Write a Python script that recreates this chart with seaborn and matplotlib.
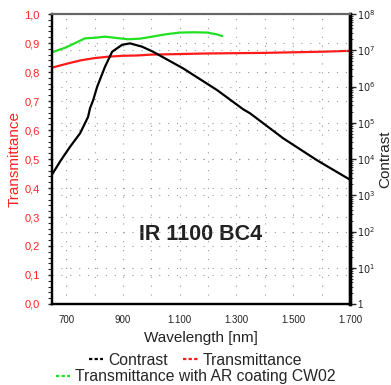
import numpy as np
import pandas as pd
import seaborn as sns
import matplotlib
matplotlib.use("Agg")
import matplotlib.pyplot as plt
from matplotlib.ticker import FuncFormatter, MultipleLocator, LogLocator, NullFormatter
from matplotlib.lines import Line2D

# Transmission (left axis)
wl_trans = [650, 700, 750, 800, 850, 900, 950, 1000, 1100, 1200, 1300, 1400, 1500, 1600, 1700]
trans = [0.815, 0.828, 0.840, 0.848, 0.853, 0.856, 0.857, 0.860, 0.862, 0.864, 0.865, 0.866, 0.868, 0.870, 0.873]

# Transmission with AR coating CW02 (left axis)
wl_ar = [650, 700, 766, 800, 837, 880, 918, 960, 1003, 1050, 1101, 1150, 1197, 1230, 1250]
trans_ar = [0.868, 0.885, 0.916, 0.918, 0.922, 0.917, 0.913, 0.915, 0.922, 0.930, 0.936, 0.937, 0.936, 0.930, 0.924]

# Contrast (right axis, log10 values)
wl_con = [650, 680, 713, 749, 777, 784, 795, 809, 837, 862, 897, 925, 967, 1006, 1112, 1232, 1324, 1348, 1465, 1585, 1700]
log_con = [3.57, 3.95, 4.33, 4.71, 5.16, 5.40, 5.62, 5.99, 6.55, 6.96, 7.15, 7.19, 7.10, 6.96, 6.50, 5.90, 5.37, 5.26, 4.57, 3.96, 3.43]

df_t = pd.DataFrame({"wl": wl_trans, "val": trans})
df_ar = pd.DataFrame({"wl": wl_ar, "val": trans_ar})
df_c = pd.DataFrame({"wl": wl_con, "val": np.power(10.0, log_con)})

sns.set_style("white")
plt.rcParams["font.family"] = ["Liberation Sans", "DejaVu Sans"]

fig = plt.figure(figsize=(3.91, 3.85), dpi=100)
ax = fig.add_axes([0.133, 0.2104, 0.762, 0.7532])
ax2 = ax.twinx()

grid_kw = dict(color="#999999", linestyle=(0, (1, 7)), linewidth=0.8)
ax.set_axisbelow(True)

sns.lineplot(data=df_t, x="wl", y="val", ax=ax, color="#ff1a1a", linewidth=1.6)
sns.lineplot(data=df_ar, x="wl", y="val", ax=ax, color="#22e022", linewidth=1.6)
sns.lineplot(data=df_c, x="wl", y="val", ax=ax2, color="black", linewidth=1.6)

ax.set_xlim(650, 1700)
ax.set_ylim(0, 1.0)
ax2.set_yscale("log")
ax2.set_ylim(1, 1e8)

# x ticks
ax.xaxis.set_major_locator(MultipleLocator(100))
ax.xaxis.set_minor_locator(MultipleLocator(20))
def xfmt(v, p):
    v = int(round(v))
    if (v - 700) % 200 != 0:
        return ""
    return f"{v:,}".replace(",", ".")
ax.xaxis.set_major_formatter(FuncFormatter(xfmt))

# left ticks (decimal comma)
ax.yaxis.set_major_locator(MultipleLocator(0.1))
ax.yaxis.set_minor_locator(MultipleLocator(0.02))
ax.yaxis.set_major_formatter(FuncFormatter(lambda v, p: f"{v:.1f}".replace(".", ",")))

# right ticks
ax2.yaxis.set_major_locator(LogLocator(base=10, numticks=20))
ax2.yaxis.set_minor_locator(LogLocator(base=10, subs=np.arange(2, 10), numticks=20))
ax2.yaxis.set_minor_formatter(NullFormatter())
def rfmt(v, p):
    e = int(round(np.log10(v)))
    return "1" if e == 0 else rf"$10^{{{e}}}$"
ax2.yaxis.set_major_formatter(FuncFormatter(rfmt))

ax.tick_params(axis="x", which="major", direction="out", length=4, width=1, labelsize=7, colors="black", labelcolor="#222222", pad=4)
ax.tick_params(axis="x", which="minor", direction="out", length=2, width=0.8)
ax.tick_params(axis="y", which="major", direction="out", length=3, width=1, labelsize=8, labelcolor="#ff2222", pad=6)
ax.tick_params(axis="y", which="minor", direction="out", length=3, width=0.8)
ax2.tick_params(axis="y", which="major", direction="out", length=4, width=1, labelsize=7, labelcolor="#222222", pad=1)
ax2.tick_params(axis="y", which="minor", direction="out", length=2, width=0.6)

# grid
ax.grid(True, axis="x", which="major", **grid_kw)
ax.grid(True, axis="y", which="major", **grid_kw)
ax2.grid(True, axis="y", which="major", **grid_kw)

for a in (ax, ax2):
    a.spines["top"].set_color("#666666")
    a.spines["top"].set_linewidth(1.5)
    a.spines["left"].set_color("black")
    a.spines["left"].set_linewidth(1.6)
    a.spines["bottom"].set_color("black")
    a.spines["bottom"].set_linewidth(1.6)
    a.spines["right"].set_color("black")
    a.spines["right"].set_linewidth(2.4)

ax.set_xlabel("Wavelength [nm]", fontsize=11, color="#222222", labelpad=4)
ax.set_ylabel("Transmittance", fontsize=11, color="#ff2222", labelpad=2)
ax2.set_ylabel("Contrast", fontsize=11, color="#222222", labelpad=2)

ax.text(0.5, 0.24, "IR 1100 BC4", transform=ax.transAxes, ha="center", va="center",
        fontsize=15.5, fontweight="bold", color="#222222")

def h(c):
    return Line2D([], [], color=c, linestyle=(0, (1.5, 1)), linewidth=1.6)

fig.legend([h("black"), h("#ff1a1a")], ["Contrast", "Transmittance"], ncol=2,
           loc="center", bbox_to_anchor=(0.5, 0.064), frameon=False, fontsize=11.3,
           handlelength=0.9, handletextpad=0.3, columnspacing=1.0, borderpad=0)
fig.legend([h("#22e022")], ["Transmittance with AR coating CW02"],
           loc="center", bbox_to_anchor=(0.5, 0.022), frameon=False, fontsize=11.3,
           handlelength=0.9, handletextpad=0.3, borderpad=0)

fig.savefig("out.png", dpi=100)
